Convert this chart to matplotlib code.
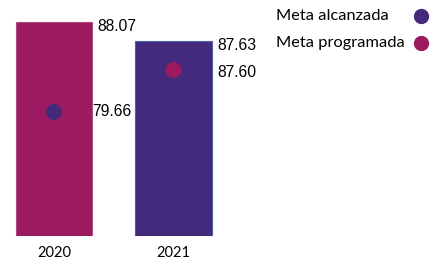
import numpy as np
import matplotlib.pyplot as plt
from matplotlib.lines import Line2D

# Datos
anios = ['2020', '2021']
meta_programada = [88.07, 87.60]
meta_alcanzada = [79.66, 87.63]
leyenda = ['Meta alcanzada', 'Meta programada']

morado = '#432A7C'
magenta = '#9C1A5F'

# barras: la meta mayor de cada año; punto: la otra
valores_barra = [meta_programada[0], meta_alcanzada[1]]
valores_punto = [meta_alcanzada[0], meta_programada[1]]
colores_barra = [magenta, morado]
bordes_barra = ['#B04A82', '#4A5DA5']
colores_punto = [morado, magenta]

fig = plt.figure(figsize=(4.32, 2.6), dpi=100)
ax = fig.add_axes([0, 24 / 260, 1, 236 / 260])
ax2 = ax.twinx()

x = np.arange(len(anios))
ax.bar(x, valores_barra, width=0.64, color=colores_barra,
       edgecolor=bordes_barra, linewidth=0.8)
ax.set_xlim(-0.452, 3.163)
ax.set_ylim(83.114, 88.579)

ax2.scatter(x, valores_punto, s=110, color=colores_punto, zorder=3)
ax2.set_ylim(56.22, 100.83)

# etiquetas de la barra
for xi, v in zip(x, valores_barra):
    ax.annotate(f'{v:.2f}', (xi + 0.32, v), xytext=(4, -3),
                textcoords='offset points', ha='left', va='center',
                fontsize=11.3, family='Liberation Sans')
# etiquetas del punto
ax2.annotate(f'{valores_punto[0]:.2f}', (x[0] + 0.32, valores_punto[0]),
             xytext=(0, 0), textcoords='offset points', ha='left',
             va='center', fontsize=11.3, family='Liberation Sans')
ax2.annotate(f'{valores_punto[1]:.2f}', (x[1] + 0.32, valores_punto[1]),
             xytext=(4, -2), textcoords='offset points', ha='left',
             va='center', fontsize=11.3, family='Liberation Sans')

for xi, a in zip(x, anios):
    ax.annotate(a, (xi, 83.114), xytext=(0, -12), textcoords='offset points',
                ha='center', va='center', fontsize=10.5, family='Lato',
                annotation_clip=False)

for a in (ax, ax2):
    a.axis('off')

# leyenda: texto alineado a la izquierda, punto a la derecha
for i, (txt, col) in enumerate(zip(leyenda, [morado, magenta])):
    yf = 1 - (16 + 26.5 * i) / 260
    fig.text(276 / 432, yf, txt, ha='left', va='center',
             fontsize=11.8, family='Lato')
    fig.add_artist(Line2D([420.5 / 432], [yf], marker='o', linestyle='',
                          color=col, markersize=10,
                          transform=fig.transFigure))

fig.savefig('out.png', dpi=100)
